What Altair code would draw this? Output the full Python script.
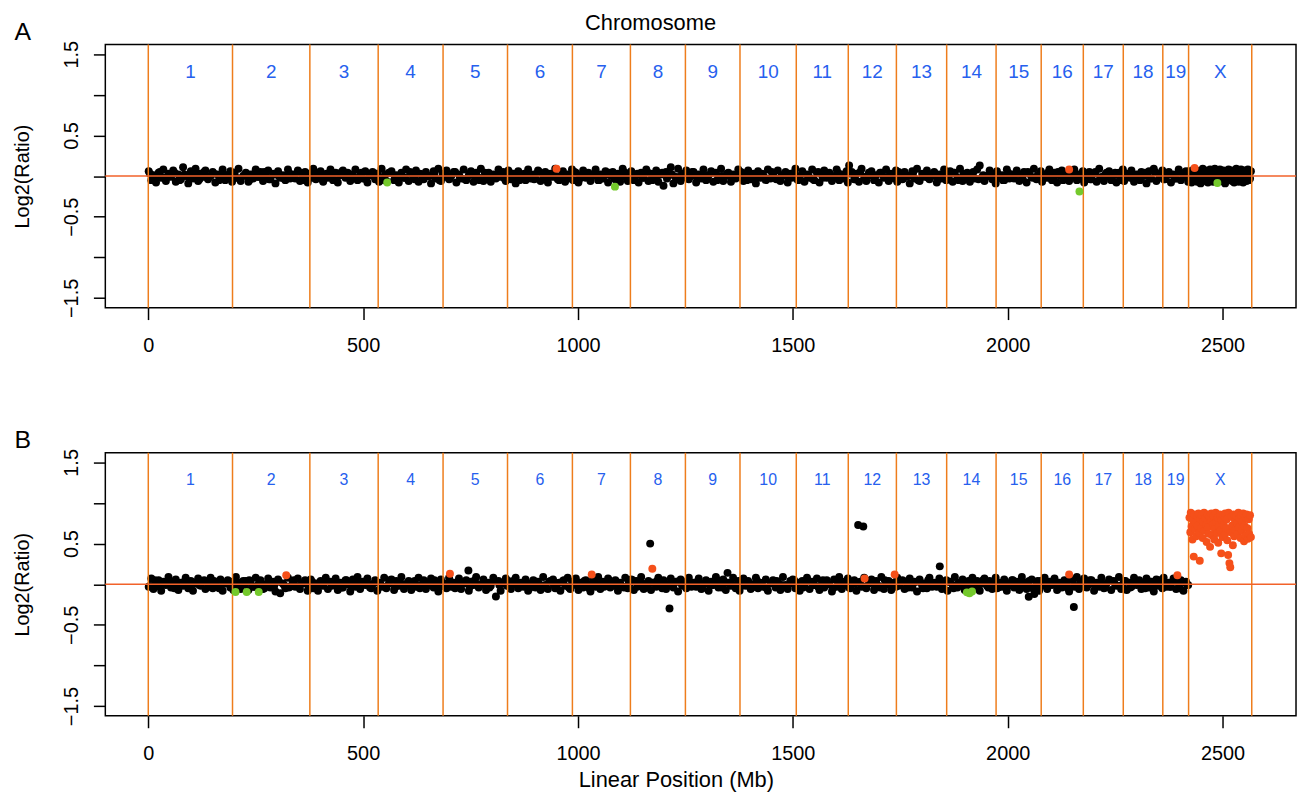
import altair as alt
import pandas as pd

# ---------------- data ----------------
chrom_bounds_mb = [0, 196, 376, 535, 686, 836, 987, 1122, 1250, 1377, 1508,
                   1629, 1741, 1858, 1973, 2078, 2176, 2269, 2361, 2421, 2568]
chrom_names = ["1", "2", "3", "4", "5", "6", "7", "8", "9", "10", "11", "12",
               "13", "14", "15", "16", "17", "18", "19", "X"]

# autosomal probe positions (Mb), shared by both hybridisations
probe_mb = [
    # chr1
    1, 7, 12, 18, 24, 30, 35, 41, 47, 53, 58, 64, 70, 76, 81, 87, 93, 99, 104, 110,
    116, 122, 127, 133, 139, 145, 150, 156, 162, 168, 173, 179, 185, 191, 195,
    # chr2
    198, 204, 210, 215, 221, 227, 233, 238, 244, 250, 256, 261, 267, 273, 279, 284,
    290, 296, 302, 307, 313, 319, 325, 330, 336, 342, 348, 353, 359, 365, 371, 375,
    # chr3
    378, 384, 390, 395, 401, 407, 413, 418, 424, 430, 436, 441, 447, 453, 459, 464,
    470, 476, 482, 487, 493, 499, 505, 510, 516, 522, 528, 533,
    # chr4
    537, 543, 549, 554, 560, 566, 572, 577, 583, 589, 595, 600, 606, 612, 618, 623,
    629, 635, 641, 646, 652, 658, 664, 669, 675, 681, 685,
    # chr5
    688, 694, 700, 705, 711, 717, 723, 728, 734, 740, 746, 751, 757, 763, 769, 774,
    780, 786, 792, 797, 803, 809, 815, 820, 826, 832, 835,
    # chr6
    838, 844, 850, 855, 861, 867, 873, 878, 884, 890, 896, 901, 907, 913, 919, 924,
    930, 936, 942, 947, 953, 959, 965, 970, 976, 982, 986,
    # chr7
    989, 995, 1001, 1006, 1012, 1018, 1024, 1029, 1035, 1041, 1047, 1052, 1058, 1064,
    1070, 1075, 1081, 1087, 1093, 1098, 1104, 1110, 1116, 1121,
    # chr8
    1124, 1130, 1136, 1141, 1147, 1153, 1159, 1164, 1170, 1176, 1182, 1187, 1193, 1199,
    1205, 1210, 1216, 1222, 1228, 1233, 1239, 1245, 1249,
    # chr9
    1252, 1258, 1264, 1269, 1275, 1281, 1287, 1292, 1298, 1304, 1310, 1315, 1321, 1327,
    1333, 1338, 1344, 1350, 1356, 1361, 1367, 1373, 1376,
    # chr10
    1379, 1385, 1391, 1396, 1402, 1408, 1414, 1419, 1425, 1431, 1437, 1442, 1448, 1454,
    1460, 1465, 1471, 1477, 1483, 1488, 1494, 1500, 1506,
    # chr11
    1510, 1516, 1522, 1527, 1533, 1539, 1545, 1550, 1556, 1562, 1568, 1573, 1579, 1585,
    1591, 1596, 1602, 1608, 1614, 1619, 1625, 1628,
    # chr12
    1631, 1637, 1643, 1648, 1654, 1660, 1666, 1671, 1677, 1683, 1689, 1694, 1700, 1706,
    1712, 1717, 1723, 1729, 1735, 1740,
    # chr13
    1743, 1749, 1755, 1760, 1766, 1772, 1778, 1783, 1789, 1795, 1801, 1806, 1812, 1818,
    1824, 1829, 1835, 1841, 1847, 1852, 1857,
    # chr14
    1860, 1866, 1872, 1877, 1883, 1889, 1895, 1900, 1906, 1912, 1918, 1923, 1929, 1935,
    1941, 1946, 1952, 1958, 1964, 1969, 1972,
    # chr15
    1975, 1981, 1987, 1992, 1998, 2004, 2010, 2015, 2021, 2027, 2033, 2038, 2044, 2050,
    2056, 2061, 2067, 2073, 2077,
    # chr16
    2080, 2086, 2092, 2097, 2103, 2109, 2115, 2120, 2126, 2132, 2138, 2143, 2149, 2155,
    2161, 2166, 2172, 2175,
    # chr17
    2178, 2184, 2190, 2195, 2201, 2207, 2213, 2218, 2224, 2230, 2236, 2241, 2247, 2253,
    2259, 2264, 2268,
    # chr18
    2271, 2277, 2283, 2288, 2294, 2300, 2306, 2311, 2317, 2323, 2329, 2334, 2340, 2346,
    2352, 2357, 2360,
    # chr19
    2363, 2369, 2375, 2380, 2386, 2392, 2398, 2403, 2409, 2415, 2420,
]

# log2 ratios x100, panel A (autosomes)
log2_A_x100 = [
    6, -5, 1, -8, 4, -2, 8, -6, 3, -1, 7, -7, 2, -4, 11, 0, -9, 6, -3, 9,
    -6, 3, -1, 7, -4, 0, 5, -8, 2, -3, 8, -5, 1, 6, -7,
    4, -2, 9, -6, 0, 4, -7, 2, -3, 8, -1, 5, -6, 0, 7, -4, 3, -9, 6, -2,
    1, -5, 8, -3, 2, -3, 7, -6, 1, 5, -8, 3,
    -1, 9, -4, 0, 6, -7, 2, -2, 8, -5, 4, -8, 1, 7, -2, 4, -6, 0, 8, -5,
    2, -3, 6, -8, 1, 5, -4, 3,
    -7, 9, -1, -6, 4, 6, -5, 1, -8, 4, -2, 8, -6, 3, -1, 7, -7, 2, -4, 5,
    0, -9, 6, -3, 9, -6, 3,
    -1, 7, -4, 0, 5, -8, 2, -3, 8, -5, 1, 6, -7, 4, -2, 9, -6, 0, 4, -7,
    2, -3, 8, -1, 5, -6, 0,
    7, -4, 3, -9, 6, -2, 1, -5, 8, -3, 2, -3, 7, -6, 1, 5, -8, 3, -1, 9,
    -4, 0, 6, -7, 2, -2, 8,
    -5, 4, -8, 1, 7, -2, 4, -6, 0, 8, -5, 2, -3, 6, -8, 1, 5, -4, 3, -7,
    9, -1, -6, 4,
    6, -5, 1, -8, 4, -2, 8, -6, 3, -1, 7, -7, 2, -12, 5, 0, 11, -9, -3, 9,
    -6, 3, -1,
    7, -4, 0, 5, -8, 2, -3, 8, -5, 1, 6, -7, 4, -2, 9, -6, 0, 4, -7, 2,
    -3, 8, -1,
    5, -6, 0, 7, -4, 3, -9, 6, -2, 1, -5, 8, -3, 2, -3, 7, -6, 1, 5, -8,
    3, -1, 9,
    -4, 0, 6, -7, 2, -2, 8, -5, 4, -8, 1, 7, -2, 4, -6, 0, 8, -5, 2, -3,
    6, -8,
    13, 5, -4, 3, -7, 9, -1, -6, 4, 6, -5, 1, -8, 4, -2, 8, -6, 3, -1, 7,
    -7, 2, -4, 5, 0, -9, 6, -3, 9, -6, 3, -1, 7, -4, 0, 5, -8, 2, -3, 8,
    -5,
    1, 6, -7, 4, -2, 9, -6, 0, 4, -7, 2, -3, 8, 13, -1, -6, 0, 7, -4, 3,
    -9,
    6, -2, 1, -5, 8, -3, 2, -3, 7, -6, 1, 5, -8, 3, -1, 9, -4, 0, 6,
    -7, 2, -2, 8, -5, 4, -8, 1, 7, -2, 4, -6, 0, 8, -5, 2, -3, 6,
    -8, 1, 5, -4, 3, -7, 9, -1, -6, 4, 6, -5, 1, -8, 4, -2, 8,
    -6, 3, -1, 7, -7, 2, -4, 5, 0, -9, 6, -3, 9, -6, 3, -1, 7,
    -4, 0, 5, -8, 2, -3, 8, -5, 1, 6, -7,
]

# log2 ratios x100, panel B (autosomes)
log2_B_x100 = [
    -3, 7, -6, 1, 5, -8, 3, -1, 9, -4, 0, 6, -7, 2, -2, 8, -5, 4, -8, 1,
    7, -2, 4, -6, 0, 8, -5, 2, -3, 6, -8, 1, 5, -4, 3,
    -7, 9, -1, -6, 4, 4, -7, 2, -3, 8, -1, 5, -6, 0, 7, -4, 3, -9, 6, -11,
    1, -5, 8, -3, 2, -3, 7, -6, 1, 5, -8, 3,
    6, -5, 1, -8, 4, -2, 8, -6, 3, -1, 7, -7, 2, -4, 5, 0, -9, 6, -3, 9,
    -6, 3, -1, 7, -4, 0, 5, -8,
    2, -3, 8, -5, 1, 6, -7, 4, -2, 9, -6, 0, 4, -7, 2, -3, 8, -1, 5, -6,
    0, 7, -4, 3, -9, 6, -2,
    1, -5, 8, -3, 2, -3, 7, -6, 1, 5, -8, 3, -1, 9, -4, 0, 6, -7, 2, -2,
    8, -15, 4, -8, 1, 7, -2,
    4, -6, 0, 8, -5, 2, -3, 6, -8, 1, 5, -4, 3, -7, 9, -1, -6, 4, 6, -5,
    1, -8, 4, -2, 8, -6, 3,
    -1, 7, -7, 2, -4, 5, 0, -9, 6, -3, 9, -6, 3, -1, 7, -4, 0, 5, -8, 2,
    -3, 8, -5, 1,
    6, -7, 4, -2, 9, -6, 0, 4, -7, 2, -3, 8, -1, 5, -6, 0, 7, -4, 3, -9,
    6, -2, 1,
    -5, 8, -3, 2, -3, 7, -6, 1, 5, -8, 3, -1, 9, -4, 0, 6, -7, 2, -2, 8,
    -5, 4, -8,
    1, 7, -2, 4, -6, 0, 8, -5, 2, -3, 6, -8, 1, 5, -4, 3, -7, 9, -1, -6,
    4, 6, -5,
    1, -8, 4, -2, 8, -6, 3, -1, 7, -7, 2, -4, 5, 0, -9, 6, -3, 9, -6, 3,
    -1, 7,
    -4, 0, 5, -8, 2, -3, 8, -5, 1, 6, -7, 4, -2, 9, -6, 0, 4, -7, 2, -3,
    8, -1, 5, -6, 0, 7, -4, 3, -9, 6, -2, 1, -5, 8, -3, 2, -3, 7, -6, 1,
    5,
    -8, 3, -1, 9, -4, 0, 6, -7, 2, -2, 8, -5, 4, -8, 1, 7, -2, 4, -6, 0,
    8,
    -5, 2, -3, 6, -8, 1, 5, -4, 3, -7, 9, -1, -6, 4, 6, -5, 1, -8, 4,
    -2, 8, -6, 3, -1, 7, -7, 2, -4, 5, 0, -9, 6, -3, 9, -6, 3, -1,
    7, -4, 0, 5, -8, 2, -3, 8, -5, 1, 6, -7, 4, -2, 9, -6, 0,
    4, -7, 2, -3, 8, -1, 5, -6, 0, 7, -4, 3, -9, 6, -2, 1, -5,
    8, -3, 2, -3, 7, -6, 1, 5, -8, 3, -1,
]

# second (interleaved) autosomal probe set
probe2_mb = [
    4, 15, 27, 38, 50, 61, 73, 84, 96, 107, 119, 130, 142, 153, 165, 176, 188,
    201, 212, 224, 235, 247, 258, 270, 281, 293, 304, 316, 327, 339, 350, 362, 373,
    381, 392, 404, 415, 427, 438, 450, 461, 473, 484, 496, 507, 519, 530,
    540, 551, 563, 574, 586, 597, 609, 620, 632, 643, 655, 666, 678,
    691, 702, 714, 725, 737, 748, 760, 771, 783, 794, 806, 817, 829,
    841, 852, 864, 875, 887, 898, 910, 921, 933, 944, 956, 967, 979,
    992, 1003, 1015, 1026, 1038, 1049, 1061, 1072, 1084, 1095, 1107, 1118,
    1127, 1138, 1150, 1161, 1173, 1184, 1196, 1207, 1219, 1230, 1242,
    1255, 1266, 1278, 1289, 1301, 1312, 1324, 1335, 1347, 1358, 1370,
    1382, 1393, 1405, 1416, 1428, 1439, 1451, 1462, 1474, 1485, 1497, 1503,
    1513, 1524, 1536, 1547, 1559, 1570, 1582, 1593, 1605, 1616, 1622,
    1634, 1645, 1657, 1668, 1680, 1691, 1703, 1714, 1726, 1737,
    1746, 1757, 1769, 1780, 1792, 1803, 1815, 1826, 1838, 1849,
    1863, 1874, 1886, 1897, 1909, 1920, 1932, 1943, 1955, 1966,
    1978, 1989, 2001, 2012, 2024, 2035, 2047, 2058, 2070,
    2083, 2094, 2106, 2117, 2129, 2140, 2152, 2163, 2169,
    2181, 2192, 2204, 2215, 2227, 2238, 2250, 2261,
    2274, 2285, 2297, 2308, 2320, 2331, 2343, 2354,
    2366, 2377, 2389, 2400, 2412, 2418,
]
log2_A2_x100 = [
    3, -4, 5, -2, 0, 4, -5, 2, -3, 1, -4, 5, -1, 3, -5, 2, -2,
    4, -3, 1, -5, 3, -1, 5, -4, 2, 0, -3, 4, -2, 5, -5, 1,
    -2, 4, -4, 3, 0, -5, 5, -1, 2, -3, 4, -4, 1, 3,
    -5, 2, 4, -3, 1, -2, 5, -4, 3, -1, 0, 4, -5,
    2, -3, 5, -1, -4, 3, 0, -5, 4, -2, 1, 5, -3,
    4, -1, -5, 3, 2, -4, 5, -2, 0, 3, -5, 1, -3,
    5, -4, 2, -2, 3, -5, 1, 4, -3, 0, 5, -1,
    -4, 3, -2, 5, -5, 1, 4, -3, 2, -1, 3,
    -3, 5, -1, 2, -4, 4, -5, 0, 3, -2, 1,
    4, -5, 2, -1, 3, -3, 5, -4, 1, 0, -2, 4,
    -5, 3, 1, -4, 5, -2, 2, -3, 4, -1, 0,
    3, -4, 5, -2, 1, -5, 4, -1, 2, -3,
    5, -3, 0, 4, -5, 2, -2, 3, -4, 1,
    -1, 4, -5, 3, -2, 5, -4, 1, 0, -3,
    2, -5, 4, -1, 3, -4, 5, -2, 1,
    -3, 4, -2, 5, -5, 0, 3, -4, 2,
    1, -4, 5, -3, 2, -1, 4, -5,
    3, -2, 0, -5, 4, -3, 5, -1,
    -4, 2, -3, 5, -1, 4,
]
log2_B2_x100 = [
    -2, 5, -3, 1, 4, -5, 0, 3, -4, 2, -1, 5, -3, 4, -5, 1, 3,
    -4, 2, 0, 5, -3, 1, -5, 4, -2, 3, -1, -4, 5, -2, 2, -3,
    3, -5, 1, 4, -2, 0, -4, 5, -3, 2, -1, 4, -5, 2,
    1, -3, 5, -4, 2, 0, -2, 4, -5, 3, -1, 5, -3,
    -1, 4, -5, 2, 3, -3, 5, -2, 0, -4, 4, -1, 2,
    -3, 5, -2, 1, -5, 4, 0, -4, 3, -1, 2, 5, -4,
    2, -1, 4, -5, 3, 0, -3, 5, -2, 1, -4, 3,
    5, -3, 1, -4, 2, 4, -5, 0, -2, 3, -1,
    4, -2, 3, -5, 1, -1, 5, -4, 2, 0, -3,
    -2, 3, -4, 5, 0, -5, 2, 4, -1, -3, 1, 5,
    2, -4, 4, -1, -3, 5, 0, -5, 3, -2, 1,
    -5, 1, 3, -3, 4, -1, -4, 5, 0, 2,
    -2, 4, -4, 1, 3, -5, 5, -1, 2, -3,
    3, -5, 2, -2, 4, 0, -3, 5, -4, 1,
    -4, 1, -2, 5, -3, 3, 0, -5, 4,
    2, -1, 4, -3, 1, -5, 5, -2, 3,
    -3, 5, -1, 2, -4, 4, 0, -2,
    4, -4, 2, 1, -5, 3, -2, 5,
    1, -3, 4, -5, 2, -1,
]

# chromosome X probes
x_probe_mb = [
    2423, 2425, 2426, 2428, 2430, 2431, 2433, 2434, 2436, 2438,
    2439, 2441, 2442, 2444, 2446, 2447, 2449, 2450, 2452, 2454,
    2455, 2457, 2458, 2460, 2462, 2463, 2465, 2466, 2468, 2470,
    2471, 2473, 2474, 2476, 2478, 2479, 2481, 2482, 2484, 2486,
    2487, 2489, 2490, 2492, 2494, 2495, 2497, 2498, 2500, 2502,
    2503, 2505, 2506, 2508, 2510, 2511, 2513, 2514, 2516, 2518,
    2519, 2521, 2522, 2524, 2526, 2527, 2529, 2530, 2532, 2534,
    2535, 2537, 2538, 2540, 2542, 2543, 2545, 2546, 2548, 2550,
    2551, 2553, 2554, 2556, 2558, 2559, 2561, 2562, 2564, 2566,
]
x_log2_A_x100 = [
    6, -5, 1, -8, 4, -2, 8, -6, 3, -1, 7, -7, 2, -4, 5, 0, -9, 6, -3, 9,
    -6, 3, -1, 7, -4, 0, 5, -8, 2, -3, 8, -5, 1, 6, -7, 4, -2, 9, -6, 0,
    4, -7, 2, -3, 8, -1, 5, -6, 0, 7, -4, 3, -9, 6, -2, 1, -5, 8, -3, 2,
    -3, 7, -6, 1, 5, -8, 3, -1, 9, -4, 0, 6, -7, 2, -2, 8, -5, 4, -8, 1,
    7, -2, 4, -6, 0, 8, -5, 2, -3, 6,
]
x_log2_B_x100 = [
    82, 64, 88, 71, 55, 79, 34, 86, 68, 76,
    59, 84, 72, 87, 63, 29, 80, 69, 85, 57,
    77, 88, 66, 81, 73, 52, 86, 70, 62, 83,
    46, 78, 87, 60, 74, 84, 55, 68, 88, 77,
    63, 82, 51, 71, 86, 66, 38, 79, 58, 85,
    73, 61, 87, 69, 80, 54, 36, 88, 26, 21,
    64, 83, 72, 48, 86, 59, 78, 67, 84, 75,
    62, 88, 70, 81, 57, 85, 66, 77, 87, 53,
    72, 83, 60, 86, 69, 56, 80, 62, 85, 58,
]

# called gains (red) / losses (green) and black outliers
gain_A_mb = [950, 2143, 2435]
gain_A_log2 = [0.09, 0.08, 0.10]
loss_A_mb = [556, 1086, 2167, 2488]
loss_A_log2 = [-0.08, -0.13, -0.19, -0.085]

gain_B_mb = [321, 702, 1032, 1173, 1667, 1737, 2143, 2395]
gain_B_log2 = [0.11, 0.13, 0.12, 0.19, 0.07, 0.12, 0.12, 0.11]
loss_B_mb = [203, 229, 257, 1905, 1911, 1917]
loss_B_log2 = [-0.095, -0.095, -0.095, -0.10, -0.11, -0.09]
outlier_B_mb = [745, 1168, 1213, 1348, 1652, 1664, 1842, 2049, 2062, 2154]
outlier_B_log2 = [0.17, 0.50, -0.30, 0.14, 0.73, 0.71, 0.22, -0.155, -0.12, -0.28]

y_ticks = [-1.5, -1.0, -0.5, 0.0, 0.5, 1.0, 1.5]
x_ticks = [0, 500, 1000, 1500, 2000, 2500]

assert len(probe_mb) == len(log2_A_x100) == len(log2_B_x100), (
    len(probe_mb), len(log2_A_x100), len(log2_B_x100))
assert len(probe2_mb) == len(log2_A2_x100) == len(log2_B2_x100), (
    len(probe2_mb), len(log2_A2_x100), len(log2_B2_x100))
assert len(x_probe_mb) == len(x_log2_A_x100) == len(x_log2_B_x100)

# ---------------- styling ----------------
FONT = "Liberation Sans"
ORANGE_V = "#EE7D1C"
ORANGE_H = "#F2622A"
RED = "#F5501A"
GREEN = "#74C92C"
BLUE = "#2660EE"
W, H = 1199, 265
DOT = 64

xscale = alt.Scale(domain=[-100, 2671], nice=False, zero=False)
yscale = alt.Scale(domain=[-1.62, 1.62], nice=False, zero=False)
xaxis = alt.Axis(values=x_ticks, title=None, grid=False, domain=False,
                 tickSize=12, tickWidth=1.5, tickColor="black",
                 labelFontSize=20, labelFont=FONT, labelColor="black",
                 labelPadding=16, labelOverlap=False, labelFlush=False,
                 format="d")
yaxis = alt.Axis(values=y_ticks, title=None, grid=False, domain=False,
                 tickSize=12, tickWidth=1.5, tickColor="black",
                 labelFontSize=20, labelFont=FONT, labelColor="black",
                 labelAngle=270, labelAlign="center", labelBaseline="bottom",
                 labelPadding=12, labelOverlap=False, format=".1f",
                 labelExpr="(abs(datum.value) == 0.5 || abs(datum.value) == 1.5) ? datum.label : ''")


def X(field):
    return alt.X(field, type="quantitative", scale=xscale, axis=xaxis)


def Y(field):
    return alt.Y(field, type="quantitative", scale=yscale, axis=yaxis)


def points(mb, val, color):
    df = pd.DataFrame({"mb": mb, "log2": val})
    return alt.Chart(df).mark_circle(size=DOT, opacity=1, color=color).encode(
        x=X("mb"), y=Y("log2"))


bounds_df = pd.DataFrame({"mb": chrom_bounds_mb})
labels_df = pd.DataFrame({
    "name": chrom_names,
    "mid": [(chrom_bounds_mb[i] + chrom_bounds_mb[i + 1]) / 2 for i in range(len(chrom_names))],
})


def panel(letter, band_layers, colored_layers, label_size, extra_texts):
    vlines = alt.Chart(bounds_df).mark_rule(color=ORANGE_V, strokeWidth=1.5).encode(x=X("mb"))
    hline = alt.Chart(bounds_df.head(1)).mark_rule(color=ORANGE_H, strokeWidth=1.5).encode(
        y=alt.datum(0, type="quantitative", scale=yscale, axis=yaxis))
    chrom_text = alt.Chart(labels_df).mark_text(
        color=BLUE, fontSize=label_size, font=FONT, baseline="middle", align="center"
    ).encode(x=X("mid"), y=alt.datum(1.285), text="name:N")
    letter_text = alt.Chart(bounds_df.head(1)).mark_text(
        text=letter, fontSize=25, font=FONT, color="black", align="center",
        baseline="alphabetic").encode(x=alt.value(-83), y=alt.value(-5))
    ylab = alt.Chart(bounds_df.head(1)).mark_text(
        text="Log2(Ratio)", fontSize=20, font=FONT, color="black", angle=270,
        align="center", baseline="middle").encode(x=alt.value(-83), y=alt.value(133))
    layers = band_layers + [vlines, hline] + colored_layers + [chrom_text, letter_text, ylab] + extra_texts
    return alt.layer(*layers).properties(width=W, height=H)


# anchor that fixes the page offset of the plot frame
anchor = alt.Chart(bounds_df.head(1)).mark_rule(opacity=0, strokeOpacity=0).encode(
    x=alt.value(-97), x2=alt.value(-90), y=alt.value(-33), y2=alt.value(-33))

chrom_title = alt.Chart(bounds_df.head(1)).mark_text(
    text="Chromosome", fontSize=22, font=FONT, color="black", align="center",
    baseline="alphabetic").encode(x=alt.value(549), y=alt.value(-15))

xlab = alt.Chart(bounds_df.head(1)).mark_text(
    text="Linear Position (Mb)", fontSize=22, font=FONT, color="black", align="center",
    baseline="alphabetic").encode(x=alt.value(575), y=alt.value(337))

panelA = panel(
    "A",
    [points(probe_mb + probe2_mb + x_probe_mb,
            [v / 100 for v in log2_A_x100 + log2_A2_x100 + x_log2_A_x100], "black")],
    [points(gain_A_mb, gain_A_log2, RED), points(loss_A_mb, loss_A_log2, GREEN)],
    19,
    [chrom_title, anchor],
)

panelB = panel(
    "B",
    [points(probe_mb + probe2_mb, [v / 100 for v in log2_B_x100 + log2_B2_x100], "black"),
     points(outlier_B_mb, outlier_B_log2, "black")],
    [points(x_probe_mb, [v / 100 for v in x_log2_B_x100], RED),
     points(gain_B_mb, gain_B_log2, RED), points(loss_B_mb, loss_B_log2, GREEN)],
    16,
    [xlab],
)

chart = alt.vconcat(panelA, panelB, spacing=146, bounds="flush").properties(
    padding={"left": 0, "top": 0, "right": 0, "bottom": 0}
).configure(
    font=FONT, background="white",
    view=alt.ViewConfig(stroke="black", strokeWidth=1.5),
)

chart.save("out.html", embed_options={"renderer": "svg", "actions": False})
